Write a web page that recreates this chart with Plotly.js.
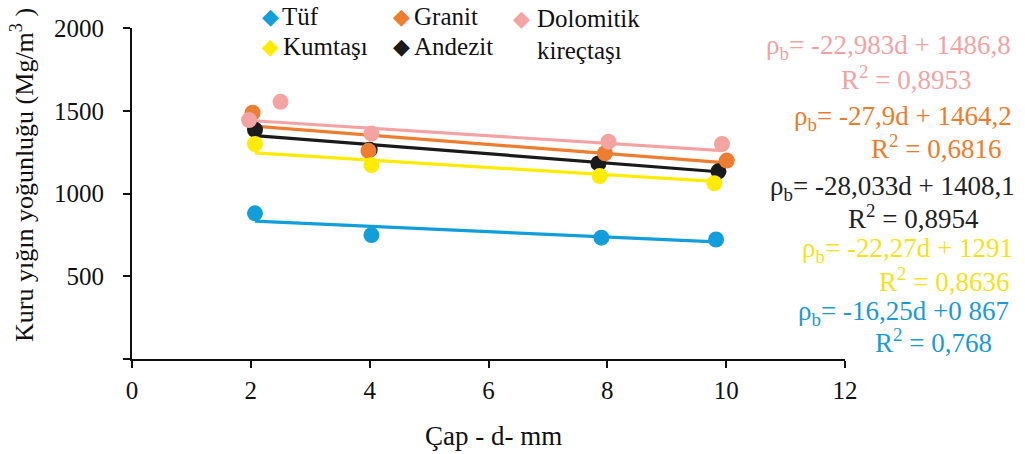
<!DOCTYPE html>
<html><head><meta charset="utf-8">
<script src="https://cdn.plot.ly/plotly-3.0.1.min.js"></script>
<style>html,body{margin:0;padding:0;background:#fff}</style>
</head><body><div id="chart" style="width:1025px;height:454px"></div>
<script>
// ---- data ----
const seriesNames = ['Tüf', 'Granit', 'Dolomitik kireçtaşı', 'Kumtaşı', 'Andezit'];
const tufX = [2.07, 4.03, 7.9, 9.83];
const tufY = [880, 749, 733, 722];
const granitX = [2.03, 3.98, 7.96, 10.01];
const granitY = [1488, 1258, 1243, 1199];
const dolomitX = [1.97, 2.5, 4.03, 8.02, 9.93];
const dolomitY = [1444, 1554, 1362, 1313, 1299];
const kumtasiX = [2.07, 4.03, 7.87, 9.8];
const kumtasiY = [1299, 1171, 1105, 1062];
const andezitX = [2.07, 4.0, 7.85, 9.87];
const andezitY = [1385, 1265, 1182, 1134];
// trendline coefficients (as printed)
const slopes = [-16.25, -27.9, -22.983, -22.27, -28.033];
const intercepts = [867, 1464.2, 1486.8, 1291, 1408.1];
const eqTexts = [
  'ρ<sub>b</sub>= -16,25d +0 867', 'ρ<sub>b</sub>= -27,9d + 1464,2', 'ρ<sub>b</sub>= -22,983d + 1486,8',
  'ρ<sub>b</sub>= -22,27d + 1291', 'ρ<sub>b</sub>= -28,033d + 1408,1'
];
const r2Texts = ['R<sup>2</sup> = 0,768', 'R<sup>2</sup> = 0,6816', 'R<sup>2</sup> = 0,8953', 'R<sup>2</sup> = 0,8636', 'R<sup>2</sup> = 0,8954'];
const legendLines = [['Tüf'], ['Granit'], ['Dolomitik', 'kireçtaşı'], ['Kumtaşı'], ['Andezit']];
const xTickVals = [0, 2, 4, 6, 8, 10, 12];
const yTickVals = [0, 500, 1000, 1500, 2000];
const yTickText = ['', '500', '1000', '1500', '2000'];

// ---- styles ----
const markerColors = ['#129edb', '#ed7d31', '#f4a3a3', '#ffec00', '#1a1a1a'];
const textColors = ['#1b9ad4', '#ee7b2a', '#f2a3a3', '#f5e21a', '#222222'];
const FONT = '"Liberation Serif", "Times New Roman", serif';
const xs = [tufX, granitX, dolomitX, kumtasiX, andezitX];
const ys = [tufY, granitY, dolomitY, kumtasiY, andezitY];

const W = 1025, H = 454, L = 132, R = 180, T = 28, B = 95;
const pw = W - L - R, ph = H - T - B;
const px = v => (v - L) / pw;
const py = v => (H - B - v) / ph;

const traces = [];
// trendlines
for (let i = 0; i < 5; i++) {
  const x0 = Math.min(...xs[i]), x1 = Math.max(...xs[i]);
  traces.push({
    x: [x0, x1], y: [slopes[i] * x0 + intercepts[i], slopes[i] * x1 + intercepts[i]],
    mode: 'lines', line: {color: markerColors[i], width: 3.2}, showlegend: false, hoverinfo: 'skip'
  });
}
// markers (draw order)
const order = [0, 4, 1, 3, 2];
for (const i of order) {
  traces.push({
    x: xs[i], y: ys[i], name: seriesNames[i], mode: 'markers',
    marker: {color: markerColors[i], size: 16}, showlegend: false
  });
}

const ann = [];
// legend: [diamond left x, first line center y, text left x]
const legendPos = [[260, 17, 280], [391, 17, 412], [511, 18, 535], [260, 47, 281], [391, 47, 412]];
for (let i = 0; i < 5; i++) {
  ann.push({
    xref: 'paper', yref: 'paper', x: px(legendPos[i][0]), y: py(legendPos[i][1]),
    xanchor: 'left', yanchor: 'middle', showarrow: false, text: '◆',
    font: {family: 'DejaVu Sans', size: 22, color: markerColors[i]}
  });
  legendLines[i].forEach((line, k) => {
    ann.push({
      xref: 'paper', yref: 'paper', x: px(legendPos[i][2]), y: py(legendPos[i][1] + k * 32),
      xanchor: 'left', yanchor: 'middle', showarrow: false, text: line,
      font: {family: FONT, size: 25, color: '#111'}
    });
  });
}
// equations: [eq right x, eq y, r2 right x, r2 y]
const eqPos = [
  [1011, 313, 994, 341],
  [1014, 118, 1003, 147],
  [1013, 47, 973, 78],
  [1015, 250, 1011, 280],
  [1017, 188, 981, 217]
];
for (let i = 0; i < 5; i++) {
  ann.push({xref: 'paper', yref: 'paper', x: px(eqPos[i][0]), y: py(eqPos[i][1]), xanchor: 'right', yanchor: 'middle',
    showarrow: false, text: eqTexts[i], font: {family: FONT, size: 27, color: textColors[i]}});
  ann.push({xref: 'paper', yref: 'paper', x: px(eqPos[i][2]), y: py(eqPos[i][3]), xanchor: 'right', yanchor: 'middle',
    showarrow: false, text: r2Texts[i], font: {family: FONT, size: 27, color: textColors[i]}});
}
// axis titles
ann.push({xref: 'paper', yref: 'paper', x: px(22), y: py(175), xanchor: 'center', yanchor: 'middle', textangle: -90,
  showarrow: false, text: 'Kuru yığın yoğunluğu (Mg/m<sup>3</sup> )', font: {family: FONT, size: 26, color: '#111'}});
ann.push({xref: 'paper', yref: 'paper', x: px(493), y: py(436), xanchor: 'center', yanchor: 'middle',
  showarrow: false, text: 'Çap - d- mm', font: {family: FONT, size: 27, color: '#111'}});

const layout = {
  width: W, height: H, margin: {l: L, r: R, t: T, b: B},
  paper_bgcolor: '#fff', plot_bgcolor: '#fff',
  font: {family: FONT, size: 25, color: '#111'},
  xaxis: {range: [0, 12], tickvals: xTickVals, showgrid: false, zeroline: false, showline: true,
    linecolor: '#111', linewidth: 2, ticks: 'outside', ticklen: 7, tickwidth: 2, tickcolor: '#111',
    ticklabelstandoff: 1, tickfont: {family: FONT, size: 25, color: '#111'}},
  yaxis: {range: [0, 2000], tickvals: yTickVals, ticktext: yTickText, showgrid: false, zeroline: false, showline: true,
    linecolor: '#111', linewidth: 2, ticks: 'outside', ticklen: 7, tickwidth: 2, tickcolor: '#111',
    ticklabelstandoff: 14, tickfont: {family: FONT, size: 25, color: '#111'}},
  annotations: ann, showlegend: false
};
Plotly.newPlot('chart', traces, layout, {displayModeBar: false, staticPlot: true});
</script></body></html>
